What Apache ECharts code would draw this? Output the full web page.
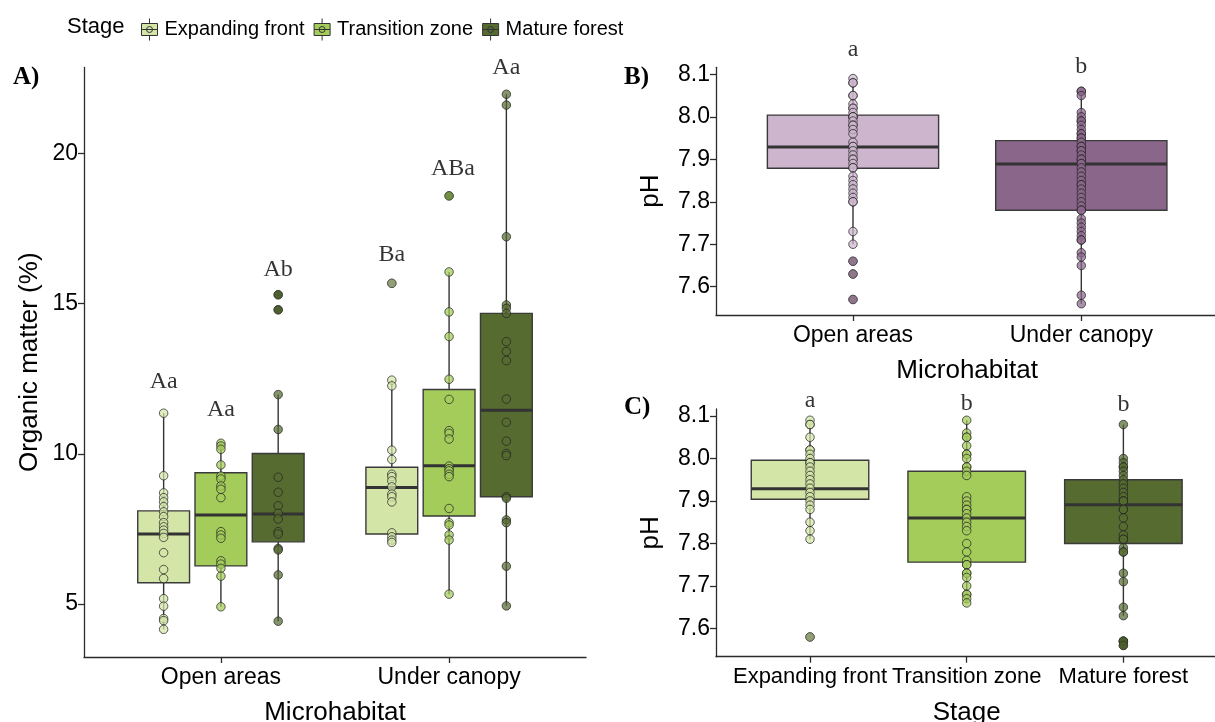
<!DOCTYPE html>
<html><head><meta charset="utf-8">
<script src="https://cdn.jsdelivr.net/npm/echarts@6/dist/echarts.min.js"></script>
<style>html,body{margin:0;padding:0;background:#fff}#c{width:1215px;height:722px}</style>
</head><body><div id="c"></div>
<script>
// ---------------- data ----------------
const stages = ['Expanding front', 'Transition zone', 'Mature forest'];
const habitats = ['Open areas', 'Under canopy'];

// Panel A: organic matter (%) points, by microhabitat x stage
const omOpenExpanding   = [11.35, 9.27, 8.70, 8.54, 8.40, 8.24, 8.07, 7.91, 7.71, 7.57, 7.46, 7.35, 7.22, 6.71, 6.15, 5.85, 5.18, 4.93, 4.52, 4.45, 4.16];
const omOpenTransition  = [10.35, 10.26, 10.15, 9.63, 9.26, 9.16, 8.93, 8.82, 8.54, 7.41, 7.30, 7.19, 6.44, 6.33, 6.19, 5.93, 4.91];
const omOpenMature      = [15.29, 14.79, 11.97, 10.81, 9.22, 8.72, 8.27, 8.02, 7.83, 7.41, 7.33, 6.85, 6.80, 5.97, 4.43];
const omCanopyExpanding = [15.67, 12.45, 12.26, 10.12, 9.81, 9.32, 9.24, 9.10, 8.90, 8.66, 8.57, 8.40, 7.37, 7.24, 7.13, 7.05];
const omCanopyTransition= [18.58, 16.05, 14.72, 13.90, 12.48, 11.81, 10.77, 10.68, 10.49, 9.59, 9.50, 9.43, 9.32, 9.24, 8.18, 7.71, 7.63, 7.30, 7.13, 5.33];
const omCanopyMature    = [21.96, 21.60, 17.22, 14.95, 14.84, 14.67, 13.73, 13.40, 13.10, 11.82, 11.05, 10.42, 10.01, 9.94, 8.57, 8.52, 7.80, 7.71, 6.26, 4.94];
// box stats: [lower whisker, Q1, median, Q3, upper whisker]
const omBoxOpen   = [[4.16, 5.71, 7.33, 8.10, 11.35], [4.91, 6.27, 7.96, 9.37, 10.35], [4.43, 7.07, 8.00, 10.01, 11.97]];
const omBoxCanopy = [[7.05, 7.33, 8.88, 9.55, 12.45], [5.33, 7.93, 9.60, 12.14, 16.05], [4.94, 8.57, 11.45, 14.67, 21.96]];
const omLettersOpen   = ['Aa', 'Aa', 'Ab'];
const omLettersCanopy = ['Ba', 'ABa', 'Aa'];
const omLetterYOpen   = [12.39, 11.46, 16.11];
const omLetterYCanopy = [16.63, 19.49, 22.84];
const omTicks = [5, 10, 15, 20];

// Panel B: pH by microhabitat
const phOpen = [8.09, 8.08, 8.08, 8.05, 8.05, 8.03, 8.02, 8.02, 8.01, 8.00, 8.00, 8.00, 7.99, 7.98, 7.98, 7.97, 7.96, 7.94, 7.93, 7.93, 7.92, 7.91, 7.90, 7.90, 7.89, 7.88, 7.88, 7.86, 7.85, 7.84, 7.83, 7.82, 7.81, 7.80, 7.80, 7.73, 7.70, 7.66, 7.63, 7.57];
const phCanopy = [8.06, 8.06, 8.05, 8.01, 8.00, 7.99, 7.99, 7.98, 7.97, 7.96, 7.96, 7.95, 7.95, 7.94, 7.93, 7.93, 7.92, 7.92, 7.91, 7.90, 7.90, 7.89, 7.89, 7.88, 7.87, 7.86, 7.85, 7.84, 7.84, 7.83, 7.82, 7.81, 7.80, 7.79, 7.78, 7.78, 7.76, 7.75, 7.74, 7.73, 7.72, 7.71, 7.71, 7.68, 7.67, 7.65, 7.58, 7.56];
const phBoxHabitat = [[7.70, 7.879, 7.929, 8.004, 8.09], [7.56, 7.780, 7.889, 7.944, 8.06]];
const phLettersHabitat = ['a', 'b'];
const phLetterYHabitat = [8.157, 8.117];

// Panel C: pH by stage
const phExpanding  = [8.09, 8.08, 8.08, 8.05, 8.02, 8.02, 8.01, 8.00, 7.99, 7.99, 7.98, 7.97, 7.96, 7.95, 7.94, 7.93, 7.92, 7.91, 7.90, 7.89, 7.88, 7.85, 7.83, 7.81, 7.58];
const phTransition = [8.09, 8.06, 8.05, 8.05, 8.03, 8.01, 8.01, 8.00, 7.98, 7.98, 7.97, 7.96, 7.91, 7.90, 7.89, 7.88, 7.88, 7.87, 7.86, 7.85, 7.84, 7.83, 7.80, 7.78, 7.76, 7.75, 7.75, 7.73, 7.73, 7.72, 7.70, 7.68, 7.68, 7.67, 7.66];
const phMature     = [8.08, 8.00, 7.99, 7.98, 7.98, 7.97, 7.96, 7.95, 7.94, 7.93, 7.92, 7.91, 7.90, 7.90, 7.88, 7.88, 7.86, 7.84, 7.82, 7.81, 7.81, 7.79, 7.78, 7.78, 7.73, 7.71, 7.65, 7.63, 7.57, 7.57, 7.56];
const phBoxStage = [[7.81, 7.904, 7.929, 7.996, 8.09], [7.66, 7.756, 7.860, 7.970, 8.09], [7.63, 7.800, 7.891, 7.950, 8.08]];
const phLettersStage = ['a', 'b', 'b'];
const phLetterYStage = [8.135, 8.128, 8.126];
const phTicks = [7.6, 7.7, 7.8, 7.9, 8.0, 8.1];

// ---------------- styles ----------------
const stageColors = ['#d3e6a8', '#a3cc5b', '#566b30'];
const stageOutlier = ['#8e9c72', '#6e8c40', '#4b5d2b'];
const habitatColors = ['#cdb5cd', '#8b668b'];
const habitatOutlier = ['#8b7287', '#6e5068'];
const SANS = 'Liberation Sans, Arial, sans-serif';
const SERIF = 'Liberation Serif, DejaVu Serif, serif';
const AX = '#2b2b2b';

function xAxis(gi, min, max, ticks, labels, name, gap, fs) {
  return {type: 'value', gridIndex: gi, min, max, name, nameLocation: 'middle', nameGap: gap,
    nameTextStyle: {fontSize: 26, color: '#000', fontFamily: SANS},
    axisLine: {show: true, onZero: false, lineStyle: {color: AX, width: 1.3}},
    axisTick: {show: true, customValues: ticks, length: 6, lineStyle: {color: AX, width: 1.3}},
    axisLabel: {show: true, customValues: ticks, hideOverlap: false, showMinLabel: true, showMaxLabel: true,
      formatter: v => labels[Math.round(v) - 1], fontSize: fs, color: '#000', margin: 9, fontFamily: SANS},
    splitLine: {show: false}};
}
function yAxis(gi, min, max, ticks, fmt, name, gap) {
  return {type: 'value', gridIndex: gi, min, max, name, nameLocation: 'middle', nameGap: gap,
    nameTextStyle: {fontSize: 26, color: '#000', fontFamily: SANS},
    axisLine: {show: true, onZero: false, lineStyle: {color: AX, width: 1.3}},
    axisTick: {show: true, customValues: ticks, length: 6, lineStyle: {color: AX, width: 1.3}},
    axisLabel: {show: true, customValues: ticks, showMinLabel: true, showMaxLabel: true, formatter: fmt, fontSize: 23, color: '#000', margin: 6, fontFamily: SANS},
    splitLine: {show: false}};
}

function boxSeries(ai, x, stats, halfW, color, name) {
  return {type: 'custom', name, xAxisIndex: ai, yAxisIndex: ai, z: 2, silent: true, clip: false,
    itemStyle: {color, borderColor: '#333', borderWidth: 1},
    data: [[x].concat(stats)],
    renderItem: function (params, api) {
      const xv = api.value(0);
      const lo = api.coord([xv, api.value(1)]);
      const q1 = api.coord([xv, api.value(2)]);
      const md = api.coord([xv, api.value(3)]);
      const q3 = api.coord([xv, api.value(4)]);
      const hi = api.coord([xv, api.value(5)]);
      const l = api.coord([xv - halfW, api.value(3)])[0];
      const r = api.coord([xv + halfW, api.value(3)])[0];
      const ls = {stroke: '#333', lineWidth: 1.4};
      return {type: 'group', children: [
        {type: 'line', shape: {x1: lo[0], y1: lo[1], x2: lo[0], y2: q1[1]}, style: ls},
        {type: 'line', shape: {x1: hi[0], y1: hi[1], x2: hi[0], y2: q3[1]}, style: ls},
        {type: 'rect', shape: {x: l, y: q3[1], width: r - l, height: q1[1] - q3[1]}, style: {fill: color, stroke: '#3a3a3a', lineWidth: 1.4}},
        {type: 'line', shape: {x1: l, y1: md[1], x2: r, y2: md[1]}, style: {stroke: '#333', lineWidth: 3}}
      ]};
    }};
}
function pointSeries(ai, x, vals, color) {
  return {type: 'scatter', xAxisIndex: ai, yAxisIndex: ai, z: 5, silent: true, clip: false,
    symbolSize: 8.5, data: vals.map(v => [x, v]),
    itemStyle: {color, opacity: 0.72, borderColor: '#222', borderWidth: 1}};
}
function outlierSeries(ai, x, vals, stats, color) {
  const out = vals.filter(v => v < stats[0] - 1e-9 || v > stats[4] + 1e-9);
  return {type: 'scatter', xAxisIndex: ai, yAxisIndex: ai, z: 6, silent: true, clip: false,
    symbolSize: 8.5, data: out.map(v => [x, v]),
    itemStyle: {color, opacity: 0.95, borderColor: 'rgba(40,40,40,0.5)', borderWidth: 1}};
}
function letterSeries(ai, items) {
  return {type: 'scatter', xAxisIndex: ai, yAxisIndex: ai, z: 7, silent: true, clip: false,
    symbolSize: 1, itemStyle: {color: 'rgba(0,0,0,0)'}, data: items,
    label: {show: true, position: 'inside', formatter: p => p.data[2], fontSize: 24, color: '#000', fontFamily: SERIF}};
}

// ---------------- build ----------------
const series = [];
const dodge = [-0.251, 0, 0.251];
const omOpen = [omOpenExpanding, omOpenTransition, omOpenMature];
const omCanopy = [omCanopyExpanding, omCanopyTransition, omCanopyMature];
const lettersA = [];
for (let s = 0; s < 3; s++) {
  const xo = 1 + dodge[s], xc = 2 + dodge[s];
  series.push(boxSeries(0, xo, omBoxOpen[s], 0.1135, stageColors[s], stages[s]));
  series.push(boxSeries(0, xc, omBoxCanopy[s], 0.1135, stageColors[s], stages[s]));
  series.push(pointSeries(0, xo, omOpen[s], stageColors[s]));
  series.push(pointSeries(0, xc, omCanopy[s], stageColors[s]));
  series.push(outlierSeries(0, xo, omOpen[s], omBoxOpen[s], stageOutlier[s]));
  series.push(outlierSeries(0, xc, omCanopy[s], omBoxCanopy[s], stageOutlier[s]));
  lettersA.push([xo, omLetterYOpen[s], omLettersOpen[s]]);
  lettersA.push([xc + (s === 1 ? 0.017 : 0), omLetterYCanopy[s], omLettersCanopy[s]]);
}
series.push(letterSeries(0, lettersA));

const phHab = [phOpen, phCanopy];
const lettersB = [];
for (let h = 0; h < 2; h++) {
  series.push(boxSeries(1, h + 1, phBoxHabitat[h], 0.375, habitatColors[h], 'B ' + habitats[h]));
  series.push(pointSeries(1, h + 1, phHab[h], habitatColors[h]));
  series.push(outlierSeries(1, h + 1, phHab[h], phBoxHabitat[h], habitatOutlier[h]));
  lettersB.push([h + 1, phLetterYHabitat[h], phLettersHabitat[h]]);
}
series.push(letterSeries(1, lettersB));

const phSt = [phExpanding, phTransition, phMature];
const lettersC = [];
for (let s = 0; s < 3; s++) {
  series.push(boxSeries(2, s + 1, phBoxStage[s], 0.375, stageColors[s], 'C ' + stages[s]));
  series.push(pointSeries(2, s + 1, phSt[s], stageColors[s]));
  series.push(outlierSeries(2, s + 1, phSt[s], phBoxStage[s], stageOutlier[s]));
  lettersC.push([s + 1, phLetterYStage[s], phLettersStage[s]]);
}
series.push(letterSeries(2, lettersC));

const legendIcon = 'path://M3,5 L19,5 L19,17 L3,17 Z M11,0 L11,5 M11,17 L11,22 M3,11 L19,11 M8,11 A3,3 0 1,1 14,11 A3,3 0 1,1 8,11 Z';

const gridBase = {containLabel: false, outerBoundsMode: 'none'};
const option = {
  animation: false,
  backgroundColor: '#fff',
  title: [
    {text: 'Stage', left: 62, top: 11, textStyle: {fontSize: 22, fontWeight: 'normal', color: '#000', fontFamily: SANS}},
    {text: 'A)', left: 8, top: 60, textStyle: {fontSize: 25, fontWeight: 'bold', color: '#000', fontFamily: SERIF}},
    {text: 'B)', left: 619, top: 60, textStyle: {fontSize: 25, fontWeight: 'bold', color: '#000', fontFamily: SERIF}},
    {text: 'C)', left: 619, top: 390, textStyle: {fontSize: 25, fontWeight: 'bold', color: '#000', fontFamily: SERIF}}
  ],
  legend: {
    data: stages, left: 136, top: 13, icon: legendIcon, itemWidth: 22, itemHeight: 22, itemGap: 9,
    selectedMode: false,
    itemStyle: {borderColor: '#333', borderWidth: 1},
    textStyle: {fontSize: 20, color: '#000', fontFamily: SANS, padding: [0, 0, 0, -1]}
  },
  grid: [
    Object.assign({left: 84, top: 67.5, width: 502, height: 589.5}, gridBase),
    Object.assign({left: 716, top: 67.3, width: 502.3, height: 247.7}, gridBase),
    Object.assign({left: 716, top: 409, width: 501.4, height: 247.7}, gridBase)
  ],
  xAxis: [
    xAxis(0, 0.4, 2.6, [1, 2], habitats, 'Microhabitat', 43, 23),
    xAxis(1, 0.4, 2.6, [1, 2], habitats, 'Microhabitat', 43, 23),
    xAxis(2, 0.4, 3.6, [1, 2, 3], stages, 'Stage', 43, 22)
  ],
  yAxis: [
    yAxis(0, 3.24, 22.85, omTicks, v => String(v), 'Organic matter (%)', 41),
    yAxis(1, 7.5335, 8.1165, phTicks, v => v.toFixed(1), 'pH', 52),
    yAxis(2, 7.5335, 8.1165, phTicks, v => v.toFixed(1), 'pH', 52)
  ],
  series
};
const chart = echarts.init(document.getElementById('c'), null, {renderer: 'canvas'});
chart.setOption(option);
</script>
</body></html>
